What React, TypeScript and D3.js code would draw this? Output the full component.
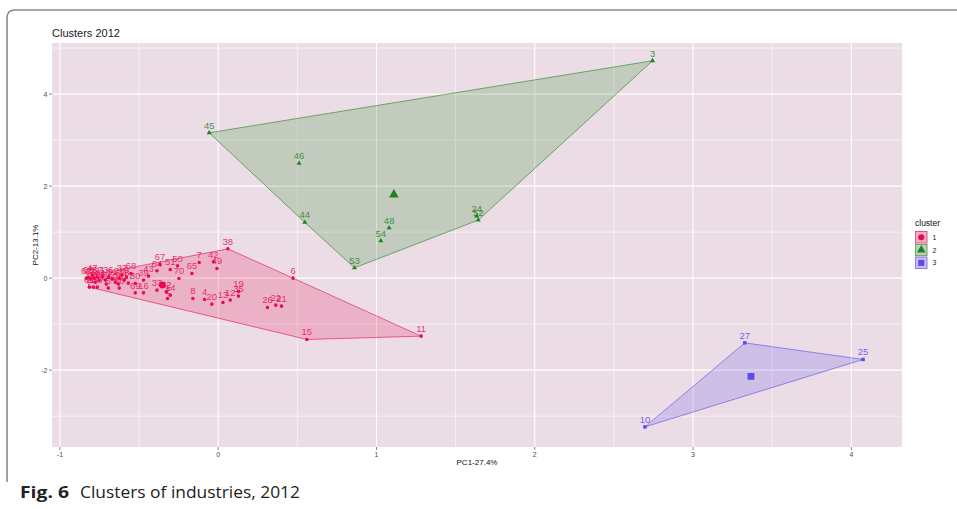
import React from "react";
import * as d3 from "d3";

type Pt = { id: string; pc1: number; pc2: number };

// Industry scores on the first two principal components, by cluster
const cluster1: Pt[] = [
  { id: "38", pc1: 0.061, pc2: 0.637 },
  { id: "6", pc1: 0.473, pc2: 0.0 },
  { id: "11", pc1: 1.282, pc2: -1.261 },
  { id: "15", pc1: 0.56, pc2: -1.333 },
  { id: "7", pc1: -0.12, pc2: 0.341 },
  { id: "42", pc1: -0.03, pc2: 0.354 },
  { id: "49", pc1: -0.008, pc2: 0.211 },
  { id: "65", pc1: -0.166, pc2: 0.102 },
  { id: "70", pc1: -0.248, pc2: -0.007 },
  { id: "50", pc1: -0.257, pc2: 0.267 },
  { id: "51", pc1: -0.303, pc2: 0.189 },
  { id: "64", pc1: -0.387, pc2: 0.159 },
  { id: "67", pc1: -0.368, pc2: 0.298 },
  { id: "43", pc1: -0.44, pc2: 0.043 },
  { id: "39", pc1: -0.472, pc2: -0.043 },
  { id: "30", pc1: -0.524, pc2: -0.115 },
  { id: "68", pc1: -0.551, pc2: 0.102 },
  { id: "37", pc1: -0.608, pc2: 0.065 },
  { id: "69", pc1: -0.524, pc2: -0.32 },
  { id: "16", pc1: -0.472, pc2: -0.32 },
  { id: "33", pc1: -0.387, pc2: -0.261 },
  { id: "32", pc1: -0.328, pc2: -0.298 },
  { id: "2", pc1: -0.32, pc2: -0.441 },
  { id: "14", pc1: -0.303, pc2: -0.37 },
  { id: "8", pc1: -0.16, pc2: -0.441 },
  { id: "4", pc1: -0.086, pc2: -0.463 },
  { id: "20", pc1: -0.04, pc2: -0.565 },
  { id: "13", pc1: 0.03, pc2: -0.528 },
  { id: "12", pc1: 0.076, pc2: -0.478 },
  { id: "19", pc1: 0.128, pc2: -0.289 },
  { id: "35", pc1: 0.128, pc2: -0.391 },
  { id: "26", pc1: 0.311, pc2: -0.637 },
  { id: "22", pc1: 0.364, pc2: -0.587 },
  { id: "21", pc1: 0.4, pc2: -0.609 },
  { id: "62", pc1: -0.833, pc2: 0.0 },
  { id: "60", pc1: -0.821, pc2: 0.022 },
  { id: "47", pc1: -0.795, pc2: 0.065 },
  { id: "63", pc1: -0.808, pc2: -0.022 },
  { id: "59", pc1: -0.783, pc2: 0.0 },
  { id: "57", pc1: -0.764, pc2: 0.022 },
  { id: "41", pc1: -0.751, pc2: -0.043 },
  { id: "1", pc1: -0.732, pc2: 0.022 },
  { id: "58", pc1: -0.777, pc2: -0.087 },
  { id: "61", pc1: -0.814, pc2: -0.196 },
  { id: "55", pc1: -0.789, pc2: -0.196 },
  { id: "56", pc1: -0.764, pc2: -0.196 },
  { id: "40", pc1: -0.713, pc2: -0.043 },
  { id: "36", pc1: -0.694, pc2: 0.022 },
  { id: "34", pc1: -0.707, pc2: -0.13 },
  { id: "31", pc1: -0.669, pc2: -0.022 },
  { id: "29", pc1: -0.65, pc2: -0.087 },
  { id: "28", pc1: -0.625, pc2: 0.0 },
  { id: "23", pc1: -0.631, pc2: -0.13 },
  { id: "18", pc1: -0.593, pc2: -0.043 },
  { id: "17", pc1: -0.568, pc2: -0.109 },
  { id: "9", pc1: -0.58, pc2: 0.022 },
  { id: "5", pc1: -0.694, pc2: -0.217 },
  { id: "66", pc1: -0.625, pc2: -0.217 },
];

const cluster2: Pt[] = [
  { id: "3", pc1: 2.744, pc2: 4.724 },
  { id: "45", pc1: -0.057, pc2: 3.159 },
  { id: "46", pc1: 0.511, pc2: 2.493 },
  { id: "44", pc1: 0.547, pc2: 1.211 },
  { id: "53", pc1: 0.861, pc2: 0.224 },
  { id: "54", pc1: 1.027, pc2: 0.811 },
  { id: "48", pc1: 1.08, pc2: 1.093 },
  { id: "24", pc1: 1.633, pc2: 1.348 },
  { id: "52", pc1: 1.643, pc2: 1.261 },
];

const cluster3: Pt[] = [
  { id: "10", pc1: 2.696, pc2: -3.233 },
  { id: "27", pc1: 3.327, pc2: -1.407 },
  { id: "25", pc1: 4.074, pc2: -1.767 },
];

const clusterNames = ["1", "2", "3"];
const clusterColors = ["#EB0A52", "#1D851D", "#5A4BF0"];
const xTicks = [-1, 0, 1, 2, 3, 4];
const yTicks = [-2, 0, 2, 4];
const xMinor = [-0.5, 0.5, 1.5, 2.5, 3.5];
const yMinor = [-3, -1, 1, 3, 5];

const W = 957;
const H = 509;
const panel = { left: 52, right: 902, top: 43, bottom: 447 };
const panelBg = "#EBDCE5";
const fontPlot = "'Liberation Sans', Arial, sans-serif";

const symbolTypes = [d3.symbolCircle, d3.symbolTriangle, d3.symbolSquare];
const pointArea = [10, 11, 12];
const centroidArea = [38, 40, 46];

export default function App() {
  const x = d3.scaleLinear().domain([-1.05, 4.32]).range([panel.left, panel.right]);
  const y = d3.scaleLinear().domain([-3.67, 5.11]).range([panel.bottom, panel.top]);

  const clusters = [cluster1, cluster2, cluster3];

  const hulls = clusters.map((pts) => {
    const hull = d3.polygonHull(pts.map((p) => [x(p.pc1), y(p.pc2)] as [number, number]));
    return hull ? "M" + hull.map((h) => h.join(",")).join("L") + "Z" : "";
  });

  const centroids = clusters.map((pts) => ({
    pc1: d3.mean(pts, (p) => p.pc1) as number,
    pc2: d3.mean(pts, (p) => p.pc2) as number,
  }));

  const sym = (i: number, area: number) => d3.symbol().type(symbolTypes[i]).size(area)() as string;

  const legendX = 915;
  const legendY0 = 231;
  const keySize = 12.5;

  return (
    <div style={{ position: "absolute", left: 0, top: 0, background: "#fff" }}>
      <svg width={W} height={H} viewBox={`0 0 ${W} ${H}`} style={{ display: "block" }}>
        <rect x={0} y={0} width={W} height={H} fill="#fff" />
        {/* page frame */}
        <path d="M7,482 V18 Q7,10 15,10 H957" fill="none" stroke="#8a8a8a" strokeWidth={1.6} />

        {/* title */}
        <text x={52} y={37} fontFamily={fontPlot} fontSize={11} fill="#1a1a1a">
          Clusters 2012
        </text>

        {/* panel */}
        <rect
          x={panel.left}
          y={panel.top}
          width={panel.right - panel.left}
          height={panel.bottom - panel.top}
          fill={panelBg}
        />
        {xMinor.map((v) => (
          <line key={"xm" + v} x1={x(v)} x2={x(v)} y1={panel.top} y2={panel.bottom} stroke="#fff" strokeWidth={0.6} />
        ))}
        {yMinor.map((v) => (
          <line key={"ym" + v} x1={panel.left} x2={panel.right} y1={y(v)} y2={y(v)} stroke="#fff" strokeWidth={0.6} />
        ))}
        {xTicks.map((v) => (
          <line key={"xg" + v} x1={x(v)} x2={x(v)} y1={panel.top} y2={panel.bottom} stroke="#fff" strokeWidth={1.1} />
        ))}
        {yTicks.map((v) => (
          <line key={"yg" + v} x1={panel.left} x2={panel.right} y1={y(v)} y2={y(v)} stroke="#fff" strokeWidth={1.1} />
        ))}

        {/* hulls */}
        {hulls.map((d, i) => (
          <path key={"h" + i} d={d} fill={clusterColors[i]} fillOpacity={0.2} stroke={clusterColors[i]} strokeOpacity={0.75} strokeWidth={0.8} />
        ))}

        {/* points */}
        {clusters.map((pts, i) =>
          pts.map((p) => (
            <path
              key={"p" + i + p.id}
              d={sym(i, pointArea[i])}
              transform={`translate(${x(p.pc1)},${y(p.pc2)})`}
              fill={clusterColors[i]}
            />
          ))
        )}

        {/* labels */}
        {clusters.map((pts, i) =>
          pts.map((p) => (
            <text
              key={"t" + i + p.id}
              x={x(p.pc1)}
              y={y(p.pc2) - 4}
              textAnchor="middle"
              fontFamily={fontPlot}
              fontSize={9.5}
              fill={clusterColors[i]}
              fillOpacity={0.85}
            >
              {p.id}
            </text>
          ))
        )}

        {/* centroids */}
        {centroids.map((c, i) => (
          <path
            key={"c" + i}
            d={sym(i, centroidArea[i])}
            transform={`translate(${x(c.pc1)},${y(c.pc2)})`}
            fill={clusterColors[i]}
          />
        ))}

        {/* x axis */}
        {xTicks.map((v) => (
          <g key={"xt" + v}>
            <line x1={x(v)} x2={x(v)} y1={panel.bottom} y2={panel.bottom + 3} stroke="#333" strokeWidth={0.6} />
            <text x={x(v)} y={panel.bottom + 10} textAnchor="middle" fontFamily={fontPlot} fontSize={7} fill="#4d4d4d">
              {v}
            </text>
          </g>
        ))}
        <text x={(panel.left + panel.right) / 2} y={465} textAnchor="middle" fontFamily={fontPlot} fontSize={8} fill="#111">
          PC1-27.4%
        </text>

        {/* y axis */}
        {yTicks.map((v) => (
          <g key={"yt" + v}>
            <line x1={panel.left - 3} x2={panel.left} y1={y(v)} y2={y(v)} stroke="#333" strokeWidth={0.6} />
            <text x={panel.left - 4.5} y={y(v) + 2.5} textAnchor="end" fontFamily={fontPlot} fontSize={7} fill="#4d4d4d">
              {v}
            </text>
          </g>
        ))}
        <text
          transform={`translate(38,${(panel.top + panel.bottom) / 2}) rotate(-90)`}
          textAnchor="middle"
          fontFamily={fontPlot}
          fontSize={8}
          fill="#111"
        >
          PC2-13.1%
        </text>

        {/* legend */}
        <text x={legendX} y={legendY0 - 5} fontFamily={fontPlot} fontSize={8.5} fill="#111">
          cluster
        </text>
        {clusterNames.map((name, i) => {
          const ky = legendY0 + i * (keySize + 0.3);
          return (
            <g key={"lg" + name}>
              <rect x={legendX} y={ky} width={keySize} height={keySize} fill={panelBg} />
              <rect
                x={legendX + 0.5}
                y={ky + 0.5}
                width={keySize - 1}
                height={keySize - 1}
                fill={clusterColors[i]}
                fillOpacity={0.2}
                stroke={clusterColors[i]}
                strokeOpacity={0.75}
                strokeWidth={0.8}
              />
              <path
                d={sym(i, centroidArea[i] * 0.8)}
                transform={`translate(${legendX + keySize / 2},${ky + keySize / 2})`}
                fill={clusterColors[i]}
              />
              <text x={legendX + keySize + 5} y={ky + keySize / 2 + 2.5} fontFamily={fontPlot} fontSize={7} fill="#222">
                {name}
              </text>
            </g>
          );
        })}

        {/* caption */}
        <text x={20} y={498} fontFamily="'Open Sans', 'Noto Sans', sans-serif" fontSize={15.5} fill="#222">
          <tspan fontWeight="bold" textLength={49} lengthAdjust="spacingAndGlyphs">Fig. 6</tspan>
          <tspan x={80} textLength={220} lengthAdjust="spacingAndGlyphs">Clusters of industries, 2012</tspan>
        </text>
      </svg>
    </div>
  );
}
